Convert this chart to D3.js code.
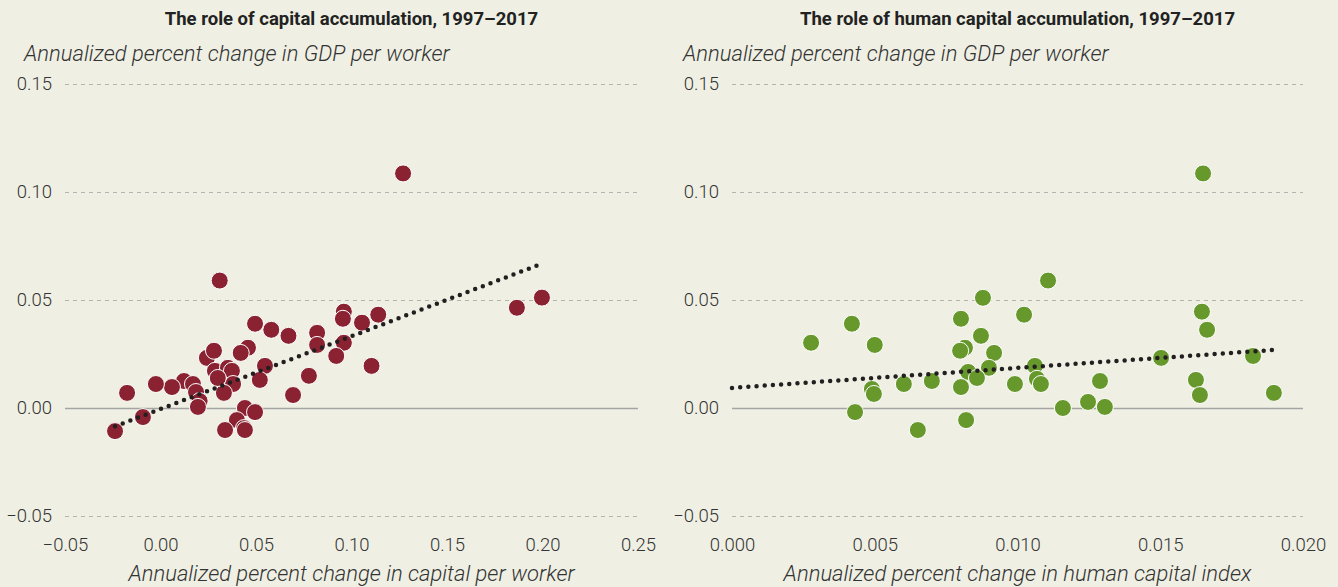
<!DOCTYPE html>
<html>
<head>
<meta charset="utf-8">
<script src="https://cdn.jsdelivr.net/npm/d3@7"></script>
<style>
  body { margin: 0; background: #eff0e3; }
  svg { display: block; }
  .tick-label { font-family: Roboto, "Liberation Sans", sans-serif; font-weight: 300; font-size: 18.5px; fill: #333; }
  .axis-title { font-family: Roboto, "Liberation Sans", sans-serif; font-weight: 300; font-style: italic; font-size: 22px; fill: #333; }
  .panel-title { font-family: Roboto, "Liberation Sans", sans-serif; font-weight: 700; font-size: 18.5px; fill: #222; }
</style>
</head>
<body>
<div id="chart"></div>
<script>
// --------- DATA ---------

// capital per worker vs GDP per worker
let capitalX = [0.031, 0.096, 0.0955, 0.114, 0.1055, 0.0495, 0.058, 0.067, 0.082, 0.082,
    0.096, 0.092, 0.1105, 0.0458, 0.042, 0.0243, 0.028, 0.0547, 0.0777, 0.052,
    0.0694, 0.0285, 0.0353, 0.0374, 0.038, 0.0332, 0.030, 0.0123, 0.017, 0.0186,
    0.0205, 0.0196, 0.006, -0.0024, -0.0175, -0.0092, -0.0238, 0.0442, 0.0495, 0.040,
    0.0437, 0.0442, 0.0338, 0.127, 0.1866, 0.1997];
let capitalY = [0.059, 0.0446, 0.0413, 0.0432, 0.0395, 0.039, 0.0362, 0.0334, 0.0348, 0.0292,
    0.0302, 0.0241, 0.0195, 0.0279, 0.0255, 0.0232, 0.0265, 0.0195, 0.0149, 0.013,
    0.006, 0.0172, 0.0186, 0.0172, 0.0111, 0.007, 0.0139, 0.0125, 0.0111, 0.0074,
    0.0032, 0.0005, 0.0097, 0.0111, 0.007, -0.0042, -0.0107, 0.0, -0.0019, -0.0056,
    -0.0093, -0.0102, -0.0102, 0.1086, 0.0464, 0.0511];

// human capital index vs GDP per worker
let humanX = [0.0165, 0.01107, 0.00879, 0.01646, 0.01023, 0.00802, 0.0042, 0.01664, 0.00872, 0.00277,
    0.0050, 0.00816, 0.00799, 0.00918, 0.01825, 0.01503, 0.01061, 0.0090, 0.00827, 0.00858,
    0.01068, 0.01625, 0.01289, 0.0070, 0.00991, 0.01082, 0.00602, 0.00802, 0.0049, 0.01898,
    0.00497, 0.01639, 0.01247, 0.01306, 0.01159, 0.00431, 0.0082, 0.00651];
let humanY = [0.1086, 0.059, 0.051, 0.0446, 0.0432, 0.0413, 0.039, 0.0362, 0.0334, 0.0302,
    0.0292, 0.0279, 0.0265, 0.0255, 0.0241, 0.0232, 0.0195, 0.0186, 0.0167, 0.0139,
    0.0135, 0.013, 0.0125, 0.0125, 0.0111, 0.0111, 0.0111, 0.0097, 0.0088, 0.007,
    0.0065, 0.006, 0.0028, 0.0005, 0.0, -0.0019, -0.0056, -0.0102];

// fitted lines, start and end points
let capitalTrendX = [-0.0238, 0.1987];
let capitalTrendY = [-0.0085, 0.0665];
let humanTrendX = [0.0, 0.019];
let humanTrendY = [0.0093, 0.0269];

let yTicks = [-0.05, 0, 0.05, 0.10, 0.15];
let capitalTicks = [-0.05, 0, 0.05, 0.10, 0.15, 0.20, 0.25];
let humanTicks = [0, 0.005, 0.010, 0.015, 0.020];

// --------- GRAPHING ---------

let svg = d3.select("#chart")
    .append("svg")
    .attr("width", 1338)
    .attr("height", 587);

svg.append("rect")
    .attr("width", 1338)
    .attr("height", 587)
    .attr("fill", "#eff0e3");

function minus(s) {
    return s.replace("-", "\u2013");
}

function panel(opts) {
    let xScale = d3.scaleLinear().domain(opts.xDomain).range([opts.left, opts.right]);
    let yScale = d3.scaleLinear().domain([-0.05, 0.15]).range([516, 84]);
    let g = svg.append("g");

    // Title
    g.append("text")
        .attr("class", "panel-title")
        .attr("x", (opts.left + opts.right) / 2)
        .attr("y", 25)
        .attr("text-anchor", "middle")
        .text(opts.title);

    g.append("text")
        .attr("class", "axis-title")
        .attr("x", opts.yTitleX)
        .attr("y", 61)
        .text("Annualized percent change in GDP per worker");

    // Gridlines
    let yGrid = d3.axisLeft(yScale)
        .tickValues(yTicks)
        .tickFormat('')
        .tickSizeOuter(0)
        .tickSizeInner(-(opts.right - opts.left));

    let grid = g.append("g")
        .attr("transform", "translate(" + opts.left + ",0)")
        .call(yGrid);
    grid.select(".domain").remove();
    grid.selectAll(".tick line")
        .attr("stroke", d => d === 0 ? "#a4a4a4" : "#b4b4b0")
        .attr("stroke-width", d => d === 0 ? 1.5 : 1.2)
        .attr("stroke-dasharray", d => d === 0 ? null : "4,4");

    // Y labels
    let yAxis = d3.axisLeft(yScale)
        .tickValues(yTicks)
        .tickSize(0)
        .tickPadding(13)
        .tickFormat(d => minus(d3.format(".2f")(d)));
    let ya = g.append("g")
        .attr("transform", "translate(" + opts.left + ",0)")
        .call(yAxis);
    ya.select(".domain").remove();
    ya.selectAll("text").attr("class", "tick-label").attr("font-family", null).attr("font-size", null).attr("fill", null);

    // X labels
    let xAxis = d3.axisBottom(xScale)
        .tickValues(opts.xTicks)
        .tickSize(0)
        .tickPadding(0)
        .tickFormat(d => minus(d3.format(opts.fmt)(d)));
    let xa = g.append("g")
        .attr("transform", "translate(0,538)")
        .call(xAxis);
    xa.select(".domain").remove();
    xa.selectAll("text").attr("class", "tick-label").attr("font-family", null).attr("font-size", null).attr("fill", null);

    g.append("text")
        .attr("class", "axis-title")
        .attr("x", (opts.left + opts.right) / 2)
        .attr("y", 581)
        .attr("text-anchor", "middle")
        .text(opts.xTitle);

    // Points
    let pts = opts.xs.map((x, i) => ({x: x, y: opts.ys[i]}));
    g.append("g")
        .selectAll("circle")
        .data(pts)
        .join("circle")
        .attr("cx", d => xScale(d.x))
        .attr("cy", d => yScale(d.y))
        .attr("r", 8.5)
        .attr("fill", opts.color)
        .attr("stroke", "#ffffff")
        .attr("stroke-width", 1);

    // Fitted line
    let line = d3.line()
        .x(d => xScale(d[0]))
        .y(d => yScale(d[1]));

    g.append("path")
        .attr("fill", "none")
        .attr("stroke", "#231f20")
        .attr("stroke-width", 4.5)
        .attr("stroke-linecap", "round")
        .attr("stroke-dasharray", "0,8.2")
        .attr("d", line(opts.trendX.map((x, i) => [x, opts.trendY[i]])));
}

panel({
    title: "The role of capital accumulation, 1997\u20132017",
    xTitle: "Annualized percent change in capital per worker",
    left: 65, right: 638, yTitleX: 24,
    xDomain: [-0.05, 0.25],
    xTicks: capitalTicks,
    fmt: ".2f",
    xs: capitalX, ys: capitalY,
    trendX: capitalTrendX, trendY: capitalTrendY,
    color: "#8a2232"
});

panel({
    title: "The role of human capital accumulation, 1997\u20132017",
    xTitle: "Annualized percent change in human capital index",
    left: 732, right: 1303, yTitleX: 683,
    xDomain: [0, 0.02],
    xTicks: humanTicks,
    fmt: ".3f",
    xs: humanX, ys: humanY,
    trendX: humanTrendX, trendY: humanTrendY,
    color: "#67982b"
});
</script>
</body>
</html>
